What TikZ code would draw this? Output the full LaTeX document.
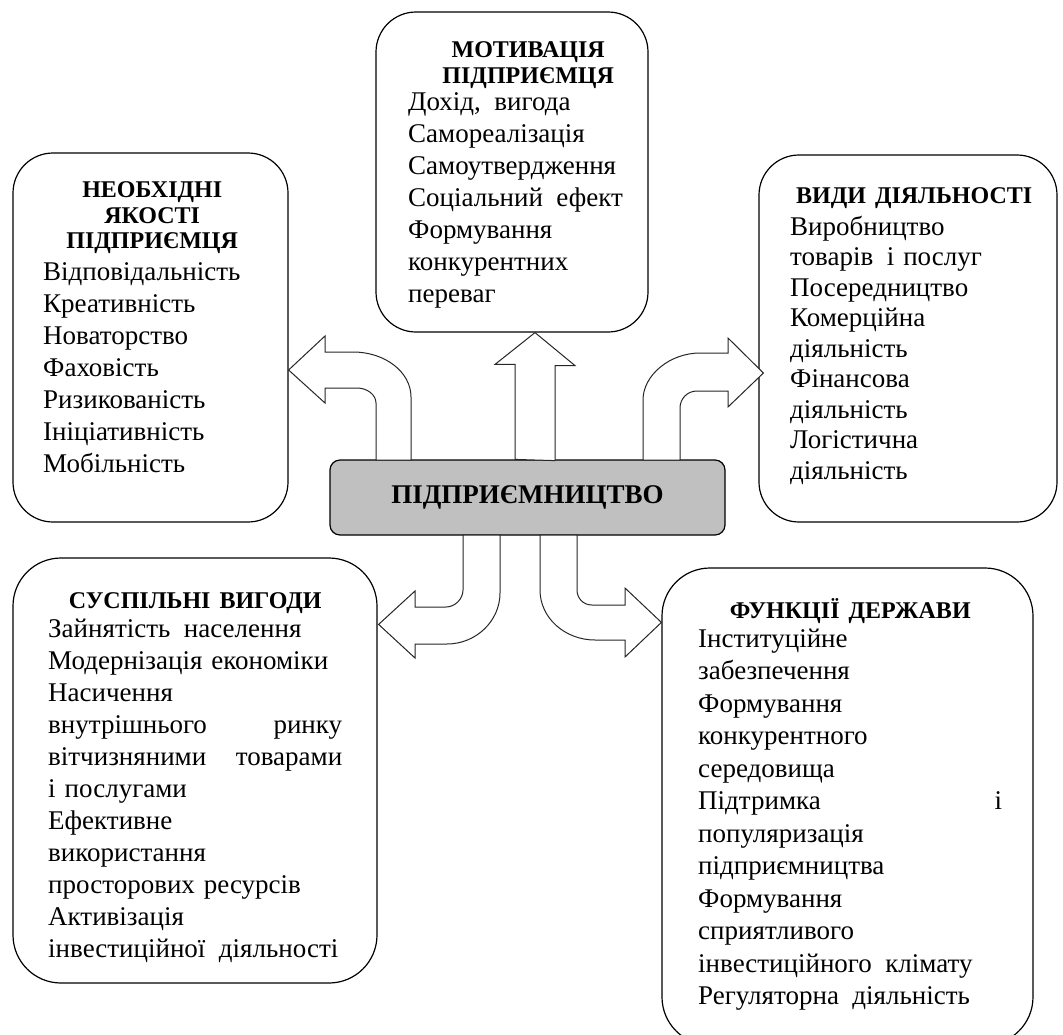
\documentclass[tikz,border=0pt]{standalone}
\usepackage{fontspec}
\setmainfont{Liberation Serif}[BoldFont={Liberation Serif Bold}]
\usetikzlibrary{calc}
\definecolor{boxgray}{RGB}{192,192,192}
\newcommand{\bodyfont}{\fontsize{27}{32}\selectfont}
\newcommand{\titlefont}{\fontsize{24}{26}\selectfont\bfseries}
\newcommand{\boxtitle}[1]{\hfill{\titlefont #1}\hfill\null}

\begin{document}
\begin{tikzpicture}[x=1pt,y=-1pt,
    bigbox/.style={draw, line width=1.2pt, rounded corners=40pt, inner sep=0pt},
    textblock/.style={anchor=north west, inner sep=0pt, align=left, font=\bodyfont},
    flowarrow/.style={draw=black!85, line width=1pt, fill=white, line join=miter}]
  \useasboundingbox (0,0) rectangle (1063,1034);
  \clip (0,0) rectangle (1063,1034);

  % frames
  \node[bigbox, minimum width=272pt, minimum height=320pt] (motiv) at (512,172) {};
  \node[bigbox, minimum width=275pt, minimum height=369pt] (needs) at (150.5,337.5) {};
  \node[bigbox, minimum width=298pt, minimum height=367pt] (kinds) at (908,338.5) {};
  \node[bigbox, rounded corners=48pt, minimum width=364pt, minimum height=425pt] (benefits) at (195,770.5) {};
  \node[bigbox, rounded corners=48pt, minimum width=371pt, minimum height=477pt] (state) at (847.5,806.5) {};
  \node[draw, line width=1.2pt, fill=boxgray, rounded corners=10pt, minimum width=395pt, minimum height=75pt,
        font=\fontsize{27}{30}\selectfont\bfseries] (centre) at (527.5,497.5) {ПІДПРИЄМНИЦТВО};

  % texts
  \node[textblock, text width=240pt] (motivtext) at (408,34.6) {\strut\boxtitle{МОТИВАЦІЯ}\\[-6pt]
    \boxtitle{ПІДПРИЄМЦЯ}\\[-5pt]
    Дохід,~\,вигода\\ Самореалізація\\ Самоутвердження\\ Соціальний~\,ефект\\
    Формування\\ конкурентних\\ переваг};
  \node[textblock, text width=218pt] (needstext) at (43,174.6) {\strut\boxtitle{НЕОБХІДНІ}\\[-6pt]
    \boxtitle{ЯКОСТІ}\\[-7pt]
    \boxtitle{ПІДПРИЄМЦЯ}\\
    Відповідальність\\ Креативність\\ Новаторство\\ Фаховість\\
    Ризикованість\\ Ініціативність\\ Мобільність};
  \node[textblock, text width=248pt, font=\fontsize{27}{30.5}\selectfont] (kindstext) at (790,181.6) {\strut\boxtitle{ВИДИ~ДІЯЛЬНОСТІ}\\[1.5pt]
    Виробництво\\ товарів~\,і~послуг\\ Посередництво\\ Комерційна\\ діяльність\\
    Фінансова\\ діяльність\\ Логістична\\ діяльність};
  \node[textblock, text width=294pt] (benefitstext) at (48,585.6) {\strut\boxtitle{СУСПІЛЬНІ~ВИГОДИ}\\[-3pt]
    Зайнятість~\,населення\\ Модернізація~економіки\\ Насичення\\
    внутрішнього\nobreak\hfill ринку\\ вітчизняними\nobreak\hfill товарами\\ і~послугами\\
    Ефективне\\ використання\\ просторових~ресурсів\\ Активізація\\
    інвестиційної~\,діяльності};
  \node[textblock, text width=304pt, font=\fontsize{27}{32.5}\selectfont] (statetext) at (698,595.2) {\strut\boxtitle{ФУНКЦІЇ~ДЕРЖАВИ}\\[-3.5pt]
    Інституційне\\ забезпечення\\ Формування\\ конкурентного\\ середовища\\
    Підтримка\nobreak\hfill і\\ популяризація\\ підприємництва\\ Формування\\
    сприятливого\\ інвестиційного~\,клімату\\ Регуляторна~\,діяльність};

  % arrow ends
  \coordinate (upfoot) at ([xshift=7.5pt]centre.north);
  \coordinate (ltip) at ([yshift=-32.5pt]needs.east);
  \coordinate (rtip) at ([xshift=5pt,yshift=-34.5pt]kinds.west);
  \coordinate (bltip) at ([xshift=1pt,yshift=-67pt]benefits.north east);
  \coordinate (brtip) at ([yshift=-55pt]state.north west);

  % block arrows
  \draw[flowarrow] (upfoot) ++(-20,0) -- ++(0,-95) -- ++(-20,0) -- (upfoot |- motiv.south)
    -- ++(40,33) -- ++(-20,0) -- ++(0,95) -- cycle;
  \draw[flowarrow] (376,460) -- (376,403) .. controls (376,395) and (367.5,388) .. (357,388)
    -- (325,388) -- (325,403) -- (ltip) -- (325,336) -- (325,352) -- (353,352)
    .. controls (385,352) and (411,372) .. (411,397) -- (411,460) -- cycle;
  \draw[flowarrow] (643,460) -- (643,400) .. controls (643,375) and (670,353) .. (700,353)
    -- (728,353) -- (728,338) -- (rtip) -- (728,407) -- (728,391) -- (697,391)
    .. controls (687,391) and (680,399) .. (680,408) -- (680,460) -- cycle;
  \draw[flowarrow] (500,535) -- (500,593) .. controls (500,621) and (476,644) .. (447,644)
    -- (415,644) -- (415,658) -- (bltip) -- (415,591) -- (415,607) -- (446,607)
    .. controls (455,607) and (463,599) .. (463,590) -- (463,535) -- cycle;
  \draw[flowarrow] (540,535) -- (540,590) .. controls (540,618) and (565,640) .. (595,640)
    -- (625,640) -- (625,657) -- (brtip) -- (625,588) -- (625,605) -- (592,605)
    .. controls (583,605) and (577,598) .. (577,590) -- (577,535) -- cycle;
\end{tikzpicture}
\end{document}
